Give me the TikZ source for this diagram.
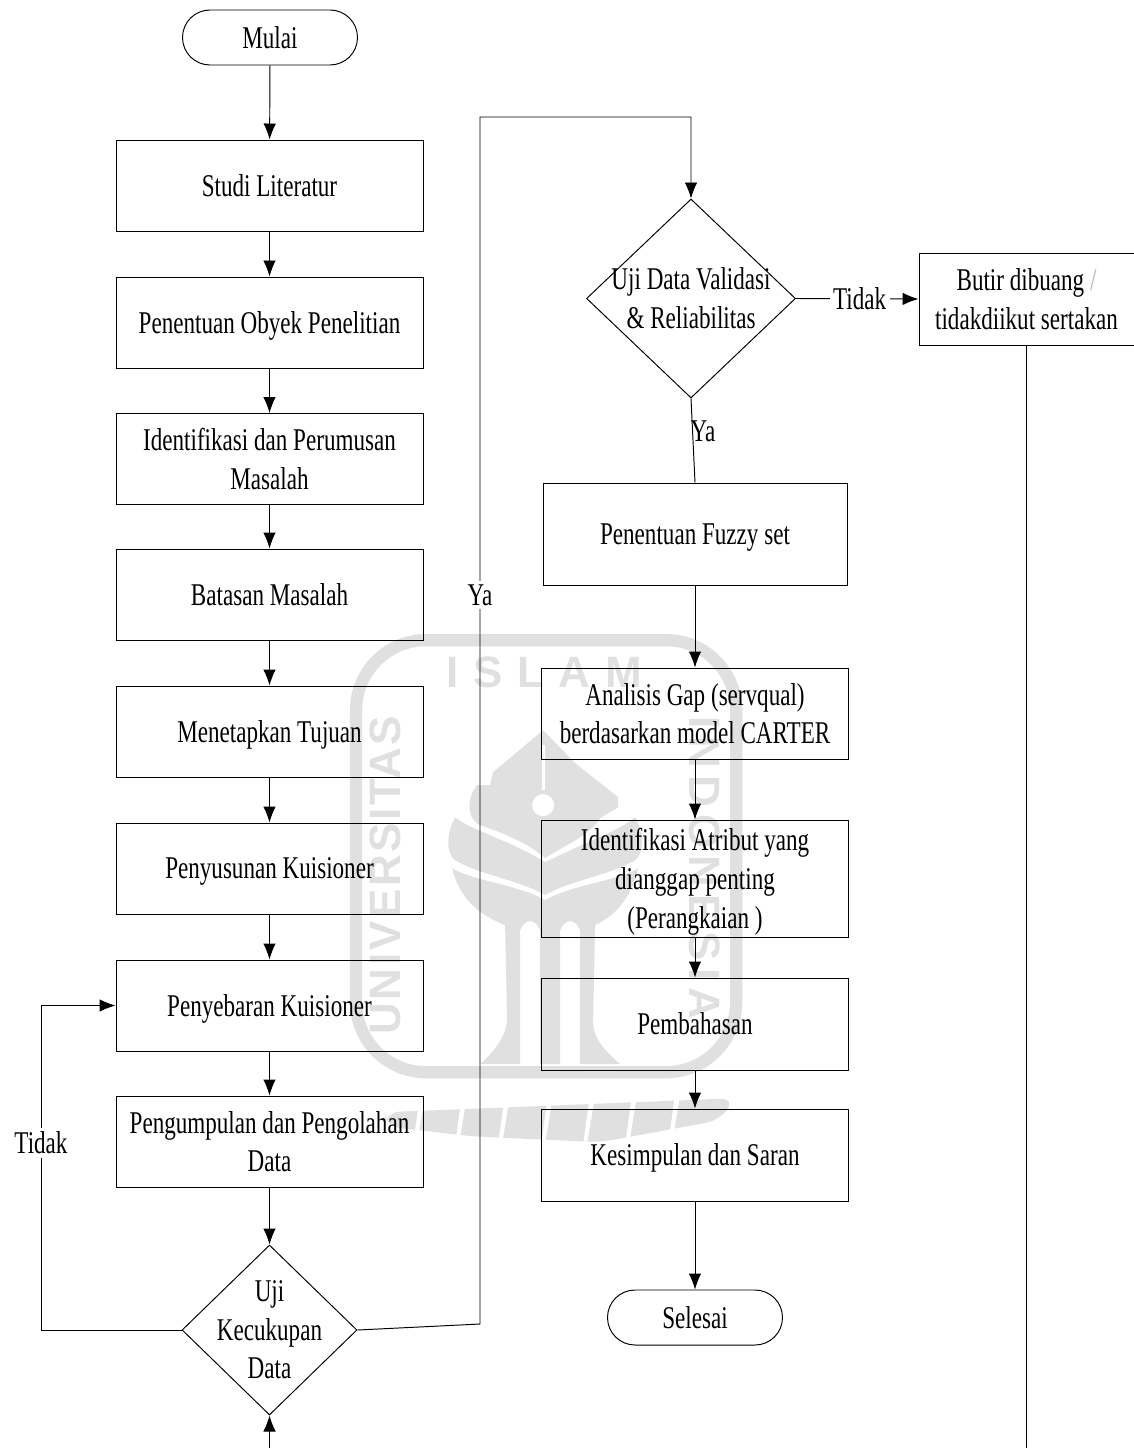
\documentclass[tikz,border=0pt]{standalone}
\usepackage{fontspec}
\setmainfont[FakeStretch=0.73]{Liberation Serif}
\newfontfamily\capfont[LetterSpace=6]{Liberation Sans}
\usetikzlibrary{shapes,arrows,positioning,calc,arrows.meta}
\definecolor{pudar}{gray}{0.88}
\tikzset{
  >={Latex[length=0.32cm,width=0.25cm]},
  every path/.style={line width=0.55pt},
  every node/.style={font=\fontsize{18}{22}\selectfont,align=center},
  kotak/.style={draw,rectangle,inner sep=0pt,text depth=0pt,minimum width=#1,minimum height=1.82cm},
  kotak/.default=6.14cm,
  mulai/.style={draw,rectangle,rounded corners=0.55cm,inner sep=0pt,minimum width=3.5cm,minimum height=1.1cm},
  putusan/.style={draw,diamond,aspect=1.04,inner sep=-14pt},
  keterangan/.style={fill=white,inner sep=2pt},
  logoteks/.style={text=pudar,font=\capfont\bfseries\fontsize{25}{25}\selectfont},
}
\begin{document}
\begin{tikzpicture}[yscale=-1]
    \useasboundingbox (0,0) rectangle (22.66,28.96);
    % logo behind the chart
    \begin{scope}[x=0.02cm,y=0.02cm]
    \draw[pudar,line width=7pt,rounded corners=1.4cm] (356,640) rectangle (736,1072);
    \node[logoteks] (islam) at (544,672) {I\,\,S\,\,L\,\,A\,\,M};
    \node[logoteks,rotate=90] (univ) at (385,875) {UNIVERSITAS};
    \node[logoteks,rotate=-90] (indo) at (704,868) {I\,N\,D\,O\,N\,E\,S\,I\,A};
    \fill[pudar] (543,730) -- (493,772) -- (490,785) -- (477,785) .. controls (465,800) and (468,820) .. (480,825) .. controls (510,835) and (530,845) .. (545,858) .. controls (565,845) and (590,835) .. (600,818) -- (618,807) -- (618,797) -- (575,763) -- cycle;
    \fill[white] (542,745) rectangle (545,790) (543,805) circle (11);
    \fill[pudar] (455,817) .. controls (445,835) and (447,855) .. (455,860) .. controls (480,875) and (520,880) .. (545,895) .. controls (570,880) and (610,875) .. (635,860) .. controls (643,855) and (645,835) .. (635,817) .. controls (620,830) and (590,840) .. (545,862) .. controls (510,840) and (470,830) .. (455,817) -- cycle;
    \fill[pudar] (452,868) .. controls (460,900) and (480,915) .. (505,925) -- (507,1020) .. controls (505,1040) and (490,1055) .. (480,1064) -- (520,1064) -- (520,930) .. controls (525,918) and (535,918) .. (540,930) -- (540,1064) -- (560,1064) -- (560,930) .. controls (565,918) and (575,918) .. (580,930) -- (580,1064) -- (620,1064) .. controls (605,1050) and (593,1040) .. (593,1020) -- (595,925) .. controls (615,915) and (630,900) .. (638,868) .. controls (620,880) and (570,885) .. (545,900) .. controls (520,885) and (470,880) .. (452,868) -- cycle;
    % calligraphy under the frame
    \fill[pudar,rounded corners=8pt] (385,1112) -- (735,1098) -- (720,1120) -- (600,1142) -- (470,1136) -- (385,1126) -- cycle;
    \foreach \x in {420,462,505,548,590,632,675}
        \fill[white] (\x,1094) -- (\x+5,1094) -- (\x-3,1144) -- (\x-7,1144) -- cycle;
    \end{scope}
    % left column
    \node[mulai] (start) at (5.4,0.75) {Mulai};
    \node[kotak] (studi) at (5.39,3.71) {Studi Literatur};
    \node[kotak] (obyek) at (5.39,6.45) {Penentuan Obyek Penelitian};
    \node[kotak] (identifikasi) at (5.39,9.18) {Identifikasi dan Perumusan\\Masalah};
    \node[kotak] (batasan) at (5.39,11.89) {Batasan Masalah};
    \node[kotak] (tujuan) at (5.39,14.63) {Menetapkan Tujuan};
    \node[kotak] (susun) at (5.39,17.37) {Penyusunan Kuisioner};
    \node[kotak] (sebar) at (5.39,20.11) {Penyebaran Kuisioner};
    \node[kotak] (kumpul) at (5.39,22.83) {Pengumpulan dan Pengolahan\\Data};
    \node[putusan,minimum width=3.5cm,minimum height=3.4cm] (cukup) at (5.39,26.6) {Uji\\Kecukupan\\Data};
    % right column
    \node[putusan,minimum width=4.18cm,minimum height=3.98cm] (valid) at (13.82,5.97) {Uji Data Validasi\\\& Reliabilitas};
    \node[kotak=4.3cm,minimum height=1.84cm] (butir) at (20.53,5.98) {Butir dibuang {\color{gray!60}/}\\tidakdiikut sertakan};
    \node[kotak=6.08cm,minimum height=2.04cm] (fuzzy) at (13.9,10.68) {Penentuan Fuzzy set};
    \node[kotak=6.14cm] (gap) at (13.9,14.27) {Analisis Gap (servqual)\\berdasarkan model CARTER};
    \node[kotak=6.14cm,minimum height=2.34cm] (atribut) at (13.9,17.57) {Identifikasi Atribut yang\\dianggap penting\\(Perangkaian )};
    \node[kotak=6.14cm,minimum height=1.84cm] (bahas) at (13.9,20.48) {Pembahasan};
    \node[kotak=6.14cm,minimum height=1.84cm] (simpul) at (13.9,23.1) {Kesimpulan dan Saran};
    \node[mulai] (selesai) at (13.9,26.35) {Selesai};
    \coordinate (bawah) at (5.39,28.96);
    \coordinate (ujung) at (20.53,28.96);
    % arrows left column
    \draw[->] (start) -- (studi);
    \draw[->] (studi) -- (obyek);
    \draw[->] (obyek) -- (identifikasi);
    \draw[->] (identifikasi) -- (batasan);
    \draw[->] (batasan) -- (tujuan);
    \draw[->] (tujuan) -- (susun);
    \draw[->] (susun) -- (sebar);
    \draw[->] (sebar) -- (kumpul);
    \draw[->] (kumpul) -- (cukup);
    \draw[->] (bawah) -- (cukup);
    \draw[->] (cukup.west) -- (0.82,26.6) -- (0.82,20.11) -- (sebar.west);
    \node[keterangan] (tidak1) at (0.82,22.86) {Tidak};
    \draw[->] (cukup.east) -- (9.6,26.48) -- (9.6,2.34) -- (13.82,2.34) -- (valid.north);
    \node[keterangan] (ya1) at (9.6,11.9) {Ya};
    % arrows right column
    \draw[->] (valid.east) -- (butir.west) node[keterangan,pos=0.52] (tidak2) {Tidak};
    \draw (valid.south) -- (fuzzy.north);
    \node (ya2) at (14.06,8.62) {Ya};
    \draw[->] (fuzzy) -- (gap);
    \draw[->] (gap) -- (atribut);
    \draw[->] (atribut) -- (bahas);
    \draw[->] (bahas) -- (simpul);
    \draw[->] (simpul) -- (selesai);
    \draw (butir) -- (ujung);
\end{tikzpicture}
\end{document}
